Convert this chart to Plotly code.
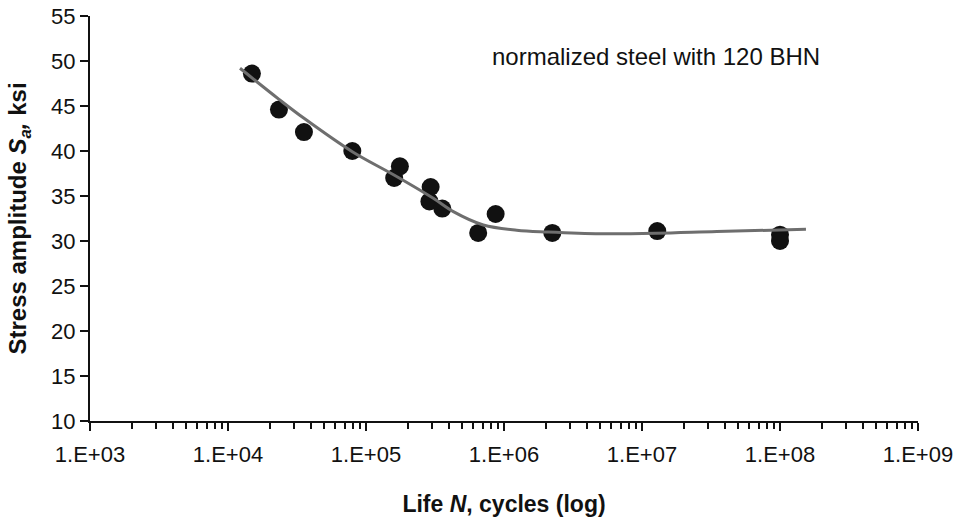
import plotly.graph_objects as go

# measured data points (life N, stress amplitude Sa in ksi)
life_n = [1.49e4, 2.34e4, 3.55e4, 7.96e4, 1.60e5, 1.76e5, 2.94e5, 2.88e5,
          3.57e5, 6.5e5, 8.7e5, 2.24e6, 1.29e7, 1.0e8, 1.0e8]
stress = [48.6, 44.6, 42.1, 40.0, 37.0, 38.3, 36.0, 34.4,
          33.6, 30.9, 33.0, 30.9, 31.1, 30.7, 30.0]

# fitted curve
curve_n = [1.222e4, 2.344e4, 3.556e4, 7.962e4, 1.596e5, 3.076e5, 4.295e5,
           7.079e5, 1.236e6, 2.094e6, 5.012e6, 1.259e7, 3.491e7, 1.542e8]
curve_s = [49.19, 45.74, 43.63, 39.92, 37.33, 34.74, 33.26,
           31.78, 31.2, 31.0, 30.8, 30.85, 31.05, 31.3]

x_tickvals = [1e3, 1e4, 1e5, 1e6, 1e7, 1e8, 1e9]
x_ticktext = ["1.E+03", "1.E+04", "1.E+05", "1.E+06", "1.E+07", "1.E+08", "1.E+09"]
x_minor = [k * 10 ** d for d in range(3, 9) for k in range(2, 10)]
y_tickvals = [10, 15, 20, 25, 30, 35, 40, 45, 50, 55]

FONT = "Liberation Sans, Arial, Helvetica, sans-serif"

fig = go.Figure()
fig.add_trace(go.Scatter(
    x=life_n, y=stress, mode="markers",
    marker=dict(size=18, color="#111111", line=dict(width=0)),
    showlegend=False, cliponaxis=False))
fig.add_trace(go.Scatter(
    x=curve_n, y=curve_s, mode="lines",
    line=dict(color="#6e6e6e", width=3, shape="spline", smoothing=1.0),
    showlegend=False))

fig.update_layout(
    width=969, height=517,
    margin=dict(l=90, r=51, t=16, b=96, autoexpand=False),
    paper_bgcolor="white", plot_bgcolor="white",
    font=dict(family=FONT, color="#111111", size=22),
    xaxis=dict(
        type="log", range=[3, 9], automargin=False,
        tickvals=x_tickvals, ticktext=x_ticktext,
        ticks="outside", ticklen=8, tickwidth=2, tickcolor="#111111",
        minor=dict(tickvals=x_minor, ticks="outside", ticklen=6, tickwidth=2, tickcolor="#111111"),
        showline=True, linecolor="#111111", linewidth=2,
        showgrid=False, zeroline=False,
        tickfont=dict(size=22), ticklabelstandoff=5,
        title=dict(text="<b>Life <i>N</i>, cycles (log)</b>", font=dict(size=23), standoff=31),
    ),
    yaxis=dict(
        range=[10, 55], automargin=False, tickvals=y_tickvals,
        ticks="outside", ticklen=8, tickwidth=2, tickcolor="#111111",
        showline=True, linecolor="#111111", linewidth=2,
        showgrid=False, zeroline=False,
        tickfont=dict(size=22),
        title=dict(text="<b>Stress amplitude <i>S<sub>a</sub>,</i> ksi</b>", font=dict(size=24), standoff=18),
    ),
    annotations=[dict(
        x=0.684, y=0.9, xref="paper", yref="paper",
        text="normalized steel with 120 BHN", showarrow=False,
        font=dict(size=24, family=FONT, color="#111111"),
        xanchor="center", yanchor="middle")],
)

fig.write_html("out.html")
